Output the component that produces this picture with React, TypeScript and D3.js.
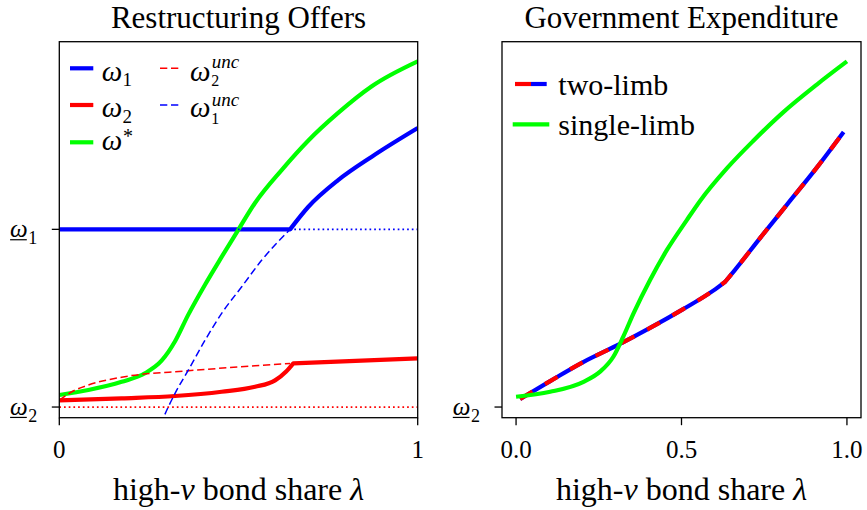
import React from 'react';
import * as d3 from 'd3';

// ---------- Left panel: Restructuring Offers ----------
// omega_1: flat at the lower bound until the kink, then rising
const omega1KinkX = 0.644;
const omega1X = [0.644, 0.695, 0.778, 0.872, 1.0];
const omega1Y = [1, 1.127, 1.277, 1.409, 1.57];

// omega_2: rising to the kink, then nearly flat
const omega2X = [0, 0.174, 0.323, 0.453, 0.546, 0.602, 0.633, 0.653];
const omega2Y = [0.037, 0.049, 0.062, 0.086, 0.114, 0.15, 0.2, 0.246];
const omega2AfterX = [0.653, 1.0];
const omega2AfterY = [0.246, 0.274];

const omegaStarX = [0, 0.081, 0.174, 0.239, 0.286, 0.323, 0.36, 0.407, 0.453, 0.499, 0.546, 0.621, 0.695, 0.778, 0.872, 1.0];
const omegaStarY = [0.068, 0.096, 0.142, 0.19, 0.262, 0.37, 0.52, 0.69, 0.845, 0.996, 1.148, 1.335, 1.5, 1.655, 1.805, 1.945];

const omega2UncX = [0, 0.035, 0.081, 0.174, 0.36, 0.546, 0.644];
const omega2UncY = [0.039, 0.086, 0.124, 0.168, 0.204, 0.232, 0.245];

const omega1UncX = [0.283, 0.29, 0.323, 0.36, 0.407, 0.453, 0.509, 0.565, 0.644];
const omega1UncY = [-0.1, -0.064, 0.077, 0.208, 0.377, 0.527, 0.677, 0.827, 1.0];

const omega1Bar = 1;
const omega2Bar = 0;

const leftXTicks = [0, 1];
const leftXTickLabels = ['0', '1'];

// ---------- Right panel: Government Expenditure ----------
const twoLimbX = [0.012, 0.103, 0.203, 0.314, 0.405, 0.505, 0.596, 0.632];
const twoLimbY = [0.045, 0.146, 0.253, 0.355, 0.445, 0.551, 0.655, 0.705];
const twoLimbAfterX = [0.632, 0.66, 0.738, 0.82, 0.91, 0.99];
const twoLimbAfterY = [0.705, 0.768, 0.952, 1.142, 1.35, 1.548];

const singleLimbX = [0, 0.103, 0.204, 0.254, 0.294, 0.324, 0.355, 0.405, 0.456, 0.516, 0.556, 0.637, 0.718, 0.808, 0.909, 1.0];
const singleLimbY = [0.058, 0.086, 0.142, 0.199, 0.283, 0.396, 0.527, 0.715, 0.884, 1.052, 1.16, 1.343, 1.5, 1.66, 1.815, 1.945];

const rightXTicks = [0, 0.5, 1];
const rightXTickLabels = ['0.0', '0.5', '1.0'];

const titles = ['Restructuring Offers', 'Government Expenditure'];
const legendRight = ['two-limb', 'single-limb'];

const FONT = '"Liberation Serif"';
const BLUE = '#0000ff';
const RED = '#ff0000';
const GREEN = '#00ff00';

const zip = (xs: number[], ys: number[]): [number, number][] => xs.map((x, i) => [x, ys[i]]);

const TOP = 41.7;
const BOTTOM = 417.7;

const yScale = d3.scaleLinear().domain([-0.06, 2.056]).range([BOTTOM, TOP]);
const xL = d3.scaleLinear().domain([0, 1]).range([59.3, 417.7]);
const xR = d3.scaleLinear().domain([-0.0425, 1.0425]).range([502, 861]);

function makeLine(xs: d3.ScaleLinear<number, number>) {
  return d3
    .line<[number, number]>()
    .x((d) => xs(d[0]))
    .y((d) => yScale(d[1]))
    .curve(d3.curveMonotoneX);
}

const base: React.CSSProperties = { fontFamily: FONT };
const ital: React.CSSProperties = { fontFamily: FONT, fontStyle: 'italic' };

function OmegaTick({ tickStart, y, sub }: { tickStart: number; y: number; sub: string }) {
  const wx = tickStart - 41.7;
  return (
    <g>
      <text x={wx} y={y + 8} style={base} fontSize={25}>
        <tspan style={ital}>ω</tspan>
        <tspan x={tickStart - 23.6} dy={6.8} fontSize={18}>{sub}</tspan>
      </text>
      <line x1={wx} x2={wx + 16.7} y1={y + 10.4} y2={y + 10.4} stroke="#000" strokeWidth={1.2} />
    </g>
  );
}

export default function App() {
  const lineL = makeLine(xL);
  const lineR = makeLine(xR);
  const [l0, l1] = xL.range();
  const r0 = 502;
  const r1 = 861;
  const yTickStartL = l0 - 7.5;
  const yTickStartR = r0 - 7.5;

  const omega1Path =
    `M${xL(0)},${yScale(omega1Bar)}L${xL(omega1KinkX)},${yScale(omega1Bar)}` +
    (lineL(zip(omega1X, omega1Y)) || '').replace(/^M/, 'L');
  const omega2Path =
    (lineL(zip(omega2X, omega2Y)) || '') + (lineL(zip(omega2AfterX, omega2AfterY)) || '').replace(/^M/, 'L');
  const twoLimbPath =
    (lineR(zip(twoLimbX, twoLimbY)) || '') + (lineR(zip(twoLimbAfterX, twoLimbAfterY)) || '').replace(/^M/, 'L');

  return (
    <svg
      width={867}
      height={510}
      style={{ position: 'absolute', left: 0, top: 0, background: '#fff' }}
      xmlns="http://www.w3.org/2000/svg"
    >
      <defs>
        <clipPath id="clipL">
          <rect x={l0} y={TOP} width={l1 - l0} height={BOTTOM - TOP} />
        </clipPath>
        <clipPath id="clipR">
          <rect x={r0} y={TOP} width={r1 - r0} height={BOTTOM - TOP} />
        </clipPath>
      </defs>
      <rect x={0} y={0} width={867} height={510} fill="#fff" />

      {/* ---------------- Left panel ---------------- */}
      <text x={(l0 + l1) / 2} y={28} textAnchor="middle" style={base} fontSize={31}>
        {titles[0]}
      </text>
      <g clipPath="url(#clipL)">
        <path d={omega1Path} fill="none" stroke={BLUE} strokeWidth={4.2} strokeLinejoin="round" />
        <path d={omega2Path} fill="none" stroke={RED} strokeWidth={4.2} strokeLinejoin="round" />
        <path d={lineL(zip(omegaStarX, omegaStarY)) || ''} fill="none" stroke={GREEN} strokeWidth={4.2} />
        <path d={lineL(zip(omega2UncX, omega2UncY)) || ''} fill="none" stroke={RED} strokeWidth={1.5} strokeDasharray="7.3 3.7" />
        <path d={lineL(zip(omega1UncX, omega1UncY)) || ''} fill="none" stroke={BLUE} strokeWidth={1.5} strokeDasharray="7.3 3.7" />
        <line x1={xL(0)} x2={xL(1)} y1={yScale(omega1Bar)} y2={yScale(omega1Bar)} stroke={BLUE} strokeWidth={1.7} strokeDasharray="1.7 3" />
        <line x1={xL(0)} x2={xL(1)} y1={yScale(omega2Bar)} y2={yScale(omega2Bar)} stroke={RED} strokeWidth={1.7} strokeDasharray="1.7 3" />
      </g>
      <rect x={l0} y={TOP} width={l1 - l0} height={BOTTOM - TOP} fill="none" stroke="#000" strokeWidth={1.3} />
      {[omega1Bar, omega2Bar].map((v, i) => (
        <g key={'lyt' + i}>
          <line x1={yTickStartL} x2={l0} y1={yScale(v)} y2={yScale(v)} stroke="#000" strokeWidth={1.3} />
          <OmegaTick tickStart={yTickStartL} y={yScale(v)} sub={i === 0 ? '1' : '2'} />
        </g>
      ))}
      {leftXTicks.map((t, i) => (
        <g key={'lxt' + i}>
          <line x1={xL(t)} x2={xL(t)} y1={BOTTOM} y2={BOTTOM + 7.5} stroke="#000" strokeWidth={1.3} />
          <text x={xL(t)} y={458} textAnchor="middle" style={base} fontSize={25}>
            {leftXTickLabels[i]}
          </text>
        </g>
      ))}
      <text x={(l0 + l1) / 2} y={500} textAnchor="middle" style={base} fontSize={32}>
        high-<tspan style={ital}>v</tspan> bond share <tspan style={ital}>λ</tspan>
      </text>

      {/* Left legend */}
      <g>
        <line x1={72.1} x2={91.2} y1={68.3} y2={68.3} stroke={BLUE} strokeWidth={4.2} strokeLinecap="square" />
        <line x1={72.1} x2={91.2} y1={105} y2={105} stroke={RED} strokeWidth={4.2} strokeLinecap="square" />
        <line x1={72.1} x2={91.2} y1={142.3} y2={142.3} stroke={GREEN} strokeWidth={4.2} strokeLinecap="square" />
        <line x1={160} x2={178.3} y1={68.3} y2={68.3} stroke={RED} strokeWidth={1.5} strokeDasharray="7.3 3.7" />
        <line x1={160} x2={178.3} y1={105} y2={105} stroke={BLUE} strokeWidth={1.5} strokeDasharray="7.3 3.7" />

        <text x={101.7} y={80.7} style={base} fontSize={29}>
          <tspan style={ital}>ω</tspan>
          <tspan x={122.5} dy={5.3} fontSize={19}>1</tspan>
        </text>
        <text x={101.7} y={117.3} style={base} fontSize={29}>
          <tspan style={ital}>ω</tspan>
          <tspan x={122.5} dy={5.3} fontSize={19}>2</tspan>
        </text>
        <text x={101.7} y={150} style={base} fontSize={29}>
          <tspan style={ital}>ω</tspan>
          <tspan x={123} dy={-7} fontSize={20}>*</tspan>
        </text>
        <text x={190} y={80.7} style={base} fontSize={29}>
          <tspan style={ital}>ω</tspan>
          <tspan x={211.7} dy={-12.7} fontSize={19} style={ital}>unc</tspan>
          <tspan x={211.2} dy={18} fontSize={16}>2</tspan>
        </text>
        <text x={190} y={117.3} style={base} fontSize={29}>
          <tspan style={ital}>ω</tspan>
          <tspan x={211.7} dy={-11.8} fontSize={19} style={ital}>unc</tspan>
          <tspan x={211.2} dy={18} fontSize={16}>1</tspan>
        </text>
      </g>

      {/* ---------------- Right panel ---------------- */}
      <text x={(r0 + r1) / 2} y={28} textAnchor="middle" style={base} fontSize={31}>
        {titles[1]}
      </text>
      <g clipPath="url(#clipR)">
        <path d={twoLimbPath} fill="none" stroke={BLUE} strokeWidth={4.2} strokeLinejoin="round" />
        <path d={twoLimbPath} fill="none" stroke={RED} strokeWidth={4.2} strokeDasharray="14.5 14.5" strokeLinejoin="round" />
        <path d={lineR(zip(singleLimbX, singleLimbY)) || ''} fill="none" stroke={GREEN} strokeWidth={4.2} />
      </g>
      <rect x={r0} y={TOP} width={r1 - r0} height={BOTTOM - TOP} fill="none" stroke="#000" strokeWidth={1.3} />
      <line x1={yTickStartR} x2={r0} y1={yScale(omega2Bar)} y2={yScale(omega2Bar)} stroke="#000" strokeWidth={1.3} />
      <OmegaTick tickStart={yTickStartR} y={yScale(omega2Bar)} sub="2" />
      {rightXTicks.map((t, i) => (
        <g key={'rxt' + i}>
          <line x1={xR(t)} x2={xR(t)} y1={BOTTOM} y2={BOTTOM + 7.5} stroke="#000" strokeWidth={1.3} />
          <text x={xR(t)} y={458} textAnchor="middle" style={base} fontSize={25}>
            {rightXTickLabels[i]}
          </text>
        </g>
      ))}
      <text x={(r0 + r1) / 2} y={500} textAnchor="middle" style={base} fontSize={32}>
        high-<tspan style={ital}>v</tspan> bond share <tspan style={ital}>λ</tspan>
      </text>

      {/* Right legend */}
      <g>
        <line x1={515} x2={531} y1={84} y2={84} stroke={RED} strokeWidth={4.2} />
        <line x1={531} x2={546.7} y1={84} y2={84} stroke={BLUE} strokeWidth={4.2} />
        <line x1={514.8} x2={547.2} y1={124.3} y2={124.3} stroke={GREEN} strokeWidth={4.2} strokeLinecap="square" />
        <text x={558.3} y={95} style={base} fontSize={30}>{legendRight[0]}</text>
        <text x={558.3} y={135} style={base} fontSize={30}>{legendRight[1]}</text>
      </g>
    </svg>
  );
}
